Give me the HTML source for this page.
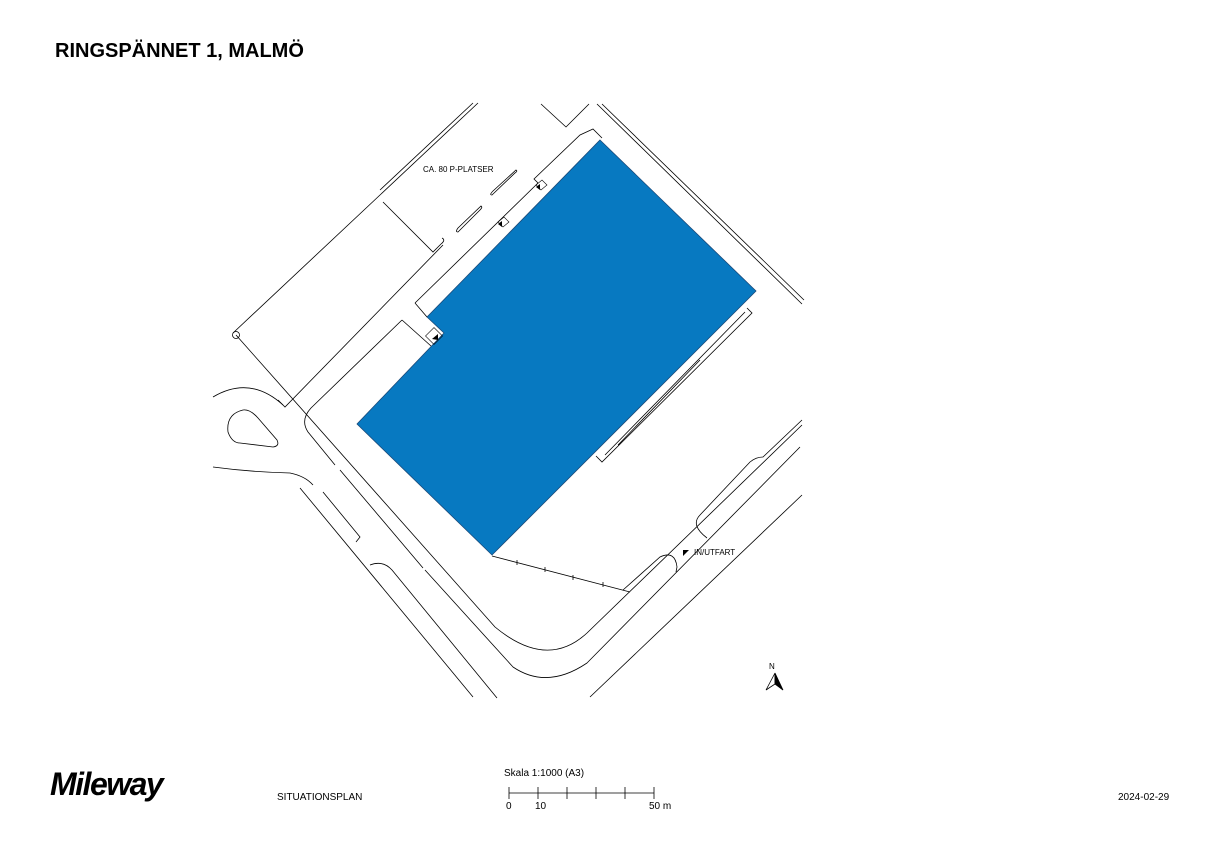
<!DOCTYPE html>
<html><head><meta charset="utf-8"><style>
html,body{margin:0;padding:0;background:#fff;}
body{width:1220px;height:854px;position:relative;overflow:hidden;font-family:"Liberation Sans",Arial,sans-serif;}
.t{position:absolute;color:#000;white-space:nowrap;}
</style></head><body>
<div class="t" style="left:55px;top:40px;font-size:20px;font-weight:bold;">RINGSPÄNNET 1, MALMÖ</div>
<div class="t" style="left:50px;top:766px;font-size:32px;font-weight:bold;font-style:italic;letter-spacing:-1.5px;">Mileway</div>
<div class="t" style="left:277px;top:792px;font-size:10px;">SITUATIONSPLAN</div>
<div class="t" style="left:504px;top:768px;font-size:10px;">Skala 1:1000 (A3)</div>
<div class="t" style="left:506px;top:801px;font-size:10px;">0</div>
<div class="t" style="left:535px;top:801px;font-size:10px;">10</div>
<div class="t" style="left:649px;top:801px;font-size:10px;">50 m</div>
<div class="t" style="left:1118px;top:792px;font-size:10px;">2024-02-29</div>
<div class="t" style="left:423px;top:165px;font-size:8px;">CA. 80 P-PLATSER</div>
<div class="t" style="left:694px;top:548px;font-size:8px;">IN/UTFART</div>
<div class="t" style="left:769px;top:662px;font-size:8px;">N</div>
<svg width="1220" height="854" style="position:absolute;left:0;top:0" fill="none" stroke="#000" stroke-width="0.8">
<path d="M509,787 V799 M509,793 H654 M538,787V799 M567,787V799 M596,787V799 M625,787V799 M654,787V799"/>
<polygon points="600,140 756,291 492,555 357,424 444,333 427,317" fill="#0779c1" stroke="#1a4a7a"/>
<path d="M415,303 L538,183 L534,179 L580,135 L593,129 L602,138"/>
<path d="M415,303 L427,317"/>
<path d="M402,320 L431,346"/>
<rect x="428" y="330" width="12" height="12" transform="rotate(45 434 336)" stroke-width="0.6"/>
<polygon points="432,339 438,334 438,340" fill="#000" stroke="none"/>
<path d="M498,222 l6,-5 l5,5 l-6,5z M536,185 l6,-5 l5,5 l-6,5z" stroke-width="0.6"/>
<polygon points="498,224 502,221 502,227" fill="#000" stroke="none"/>
<polygon points="536,187 540,184 540,190" fill="#000" stroke="none"/>
<path d="M478,103 L233,333 M473,103 L380,190"/>
<circle cx="236" cy="335" r="3.5"/>
<path d="M236,335 L495,627 Q547,670 587,633 L802,425"/>
<path d="M402,320 L311,408 Q300,420 308,432 L335,465 M340,470 L423,568 M425,570 L513,667 Q547,690 587,663 L800,447"/>
<path d="M278,400 L285,407 L443,245"/>
<path d="M383,202 L433,252 L441,244 Q446,240 442,238"/>
<path d="M492,195 L515,173 Q518,171 516,170 L493,191 Q489,195 492,195z M458,232 L480,210 Q483,207 481,206 L458,228 Q455,232 458,232z"/>
<path d="M541,104 L566,127 L589,104"/>
<path d="M597,104 L802,304 M602,104 L804,300"/>
<path d="M747,308 L752,313 L602,462 L596,456 M745,312 L605,455 M700,360 L618,445"/>
<path d="M213,397 Q250,375 283,405"/>
<path d="M243,410 Q226,414 228,432 Q232,443 240,443 L273,447 Q280,446 277,440 L258,418 Q250,409 243,410z"/>
<path d="M213,467 Q250,472 290,473 Q305,476 313,485"/>
<path d="M300,488 L473,697"/>
<path d="M323,492 L360,537 L356,542"/>
<path d="M370,565 Q383,560 392,570 L497,698"/>
<path d="M590,697 L802,495"/>
<path d="M707,538 Q690,525 700,515 L750,462 Q756,457 763,457 L802,420"/>
<path d="M623,590 L660,557 Q675,550 677,567 L676,572"/>
<path d="M492,556 L630,592 M517,560v5 M545,567v5 M573,575v5 M603,582v5"/>
<polygon points="683,550 689,550 683,556" fill="#000" stroke="none"/>
<polygon points="775,673 766,690 775,684" fill="none"/>
<polygon points="775,673 783,690 775,684" fill="#000"/>
</svg>
</body></html>
